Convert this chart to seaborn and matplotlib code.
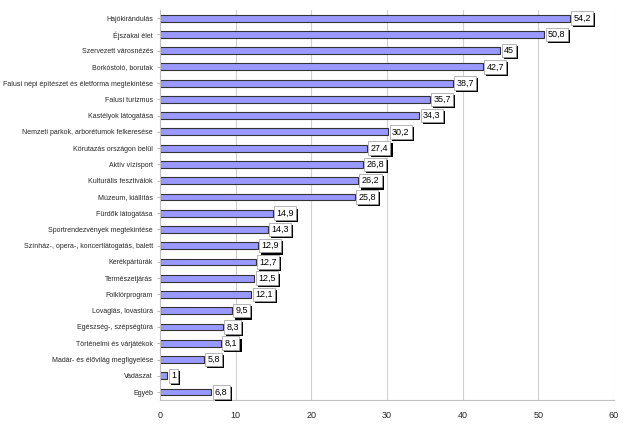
import matplotlib.pyplot as plt
import matplotlib.patheffects as pe
import pandas as pd
import seaborn as sns

categories = [
    "Hajókirándulás",
    "Éjszakai élet",
    "Szervezett városnézés",
    "Borkóstoló, borutak",
    "Falusi népi építészet és életforma megtekintése",
    "Falusi turizmus",
    "Kastélyok látogatása",
    "Nemzeti parkok, arborétumok felkeresése",
    "Körutazás országon belül",
    "Aktív vízisport",
    "Kulturális fesztiválok",
    "Múzeum, kiállítás",
    "Fürdők látogatása",
    "Sportrendezvények megtekintése",
    "Színház-, opera-, koncertlátogatás, balett",
    "Kerékpártúrák",
    "Természetjárás",
    "Folklórprogram",
    "Lovaglás, lovastúra",
    "Egészség-, szépségtúra",
    "Történelmi és várjátékok",
    "Madár- és élővilág megfigyelése",
    "Vadászat",
    "Egyéb",
]
values = [54.2, 50.8, 45, 42.7, 38.7, 35.7, 34.3, 30.2, 27.4, 26.8, 26.2, 25.8,
          14.9, 14.3, 12.9, 12.7, 12.5, 12.1, 9.5, 8.3, 8.1, 5.8, 1, 6.8]
xticks = [0, 10, 20, 30, 40, 50, 60]

df = pd.DataFrame({"kat": categories, "ertek": values})

sns.set_style("white")
plt.rcParams["font.family"] = ["Liberation Sans", "DejaVu Sans"]

fig = plt.figure(figsize=(6.32, 4.34), dpi=100)
ax = fig.add_axes([0.253, 0.078, 0.7185, 0.899])

sns.barplot(data=df, x="ertek", y="kat", orient="h", color="#9999FF",
            edgecolor="#333333", linewidth=0.8, width=0.42, saturation=1, ax=ax)

ax.set_xlim(0, 60)
ax.set_ylim(len(categories) - 0.5, -0.5)
ax.set_xticks(xticks)
ax.set_xticklabels([str(t) for t in xticks], fontsize=6.5)
ax.tick_params(axis="y", labelsize=5.0, length=2, color="#bbbbbb", pad=3, left=True)
ax.tick_params(axis="x", length=0, pad=8)
ax.set_xlabel("")
ax.set_ylabel("")
ax.xaxis.grid(True, color="#d0d0d0", linewidth=0.8)
ax.set_axisbelow(True)
for s in ["top", "right"]:
    ax.spines[s].set_visible(False)
for s in ["left", "bottom"]:
    ax.spines[s].set_color("#c0c0c0")
    ax.spines[s].set_linewidth(0.8)

# value labels: white box with black drop shadow
for i, v in enumerate(values):
    txt = f"{v:g}".replace(".", ",")
    ann = ax.annotate(txt, xy=(v, i), xytext=(2.5, 0), textcoords="offset points",
                      ha="left", va="center", fontsize=6.5, color="black",
                      bbox=dict(boxstyle="square,pad=0.25", fc="white", ec="#999999", lw=0.5))
    ann.get_bbox_patch().set_path_effects(
        [pe.withSimplePatchShadow(offset=(1.5, -1.5), shadow_rgbFace="black", alpha=1)])

fig.savefig("out.png", dpi=100)
